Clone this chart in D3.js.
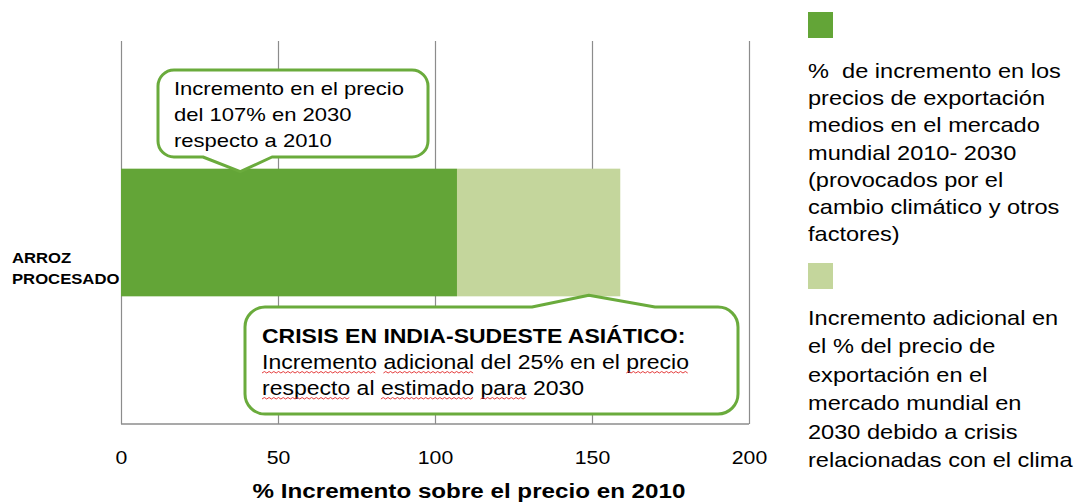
<!DOCTYPE html>
<html>
<head>
<meta charset="utf-8">
<script src="https://cdn.jsdelivr.net/npm/d3@7"></script>
<style>
  body { margin: 0; background: #fff; }
  svg text { font-family: "Liberation Sans", Arial, sans-serif; fill: #000; white-space: pre; }
</style>
</head>
<body>
<svg id="chart" width="1079" height="504"></svg>
<script>
// data
const categories = ["ARROZ PROCESADO"];
const baseIncrease = [107];     // % increase 2010-2030
const crisisIncrease = [52];    // additional increase from crisis
const xTicks = [0, 50, 100, 150, 200];
const seriesKeys = ["base", "crisis"];
const seriesColors = ["#63a537", "#c4d69c"];
const legendLines = [
  ["%  de incremento en los", "precios de exportación", "medios en el mercado", "mundial 2010- 2030", "(provocados por el", "cambio climático y otros", "factores)"],
  ["Incremento adicional en", "el % del precio de", "exportación en el", "mercado mundial en", "2030 debido a crisis", "relacionadas con el clima"]
];
const axisTitle = "% Incremento sobre el precio en 2010";
const note1 = ["Incremento en el precio", "del 107% en 2030", "respecto a 2010"];
const note2Title = "CRISIS EN INDIA-SUDESTE ASIÁTICO:";
// words flagged by the spell checker (red wavy underline)
const note2Lines = [
  [["Incremento", true], [" ", false], ["adicional", true], [" del 25% en el ", false], ["precio", true]],
  [["respecto", true], [" al ", false], ["estimado", true], [" ", false], ["para", true], [" 2030", false]]
];

const rows = categories.map((c, i) => ({ cat: c, base: baseIncrease[i], crisis: crisisIncrease[i] }));
const stacked = d3.stack().keys(seriesKeys)(rows);

const svg = d3.select("#chart");
const plot = { left: 121, right: 749, top: 41, bottom: 424 };
const SX = 1.18; // the text in the source is slightly wide

const x = d3.scaleLinear().domain([0, 200]).range([plot.left, plot.right]);
const y = d3.scaleBand().domain(categories).range([plot.top, plot.bottom])
  .paddingInner(0.5).paddingOuter(0.5);

const GREEN = "#6aab3c";
const GRID = "#8c8c8c";

function label(parent, tx, ty, str, size, opts = {}) {
  const g = parent.append("g").attr("transform", `translate(${tx},${ty}) scale(${opts.sx || SX},1)`);
  const t = g.append("text")
    .attr("font-size", size)
    .attr("font-weight", opts.bold ? "bold" : null)
    .attr("text-anchor", opts.anchor || "start")
    .text(str);
  return { g, t };
}

// gridlines
svg.append("g")
  .attr("transform", `translate(0,${plot.bottom})`)
  .call(d3.axisBottom(x).tickValues(xTicks).tickSize(-(plot.bottom - plot.top)).tickFormat(""))
  .call(g => g.select(".domain").remove())
  .call(g => g.selectAll("line").attr("stroke", GRID).attr("stroke-width", 1.2));

// bottom axis line
svg.append("line")
  .attr("x1", plot.left).attr("x2", plot.right)
  .attr("y1", plot.bottom).attr("y2", plot.bottom)
  .attr("stroke", GRID).attr("stroke-width", 1.5);

// bars
svg.append("g").selectAll("g")
  .data(stacked)
  .join("g")
  .attr("fill", (d, i) => seriesColors[i])
  .selectAll("rect")
  .data(d => d)
  .join("rect")
  .attr("x", d => x(d[0]))
  .attr("y", d => y(d.data.cat))
  .attr("width", d => x(d[1]) - x(d[0]))
  .attr("height", y.bandwidth());

// tick labels
const ax = svg.append("g")
  .attr("transform", `translate(0,${plot.bottom})`)
  .call(d3.axisBottom(x).tickValues(xTicks).tickSize(0).tickPadding(0))
  .call(g => g.select(".domain").remove());
ax.selectAll("text")
  .attr("font-family", null).attr("font-size", 18)
  .attr("y", 40).attr("dy", null)
  .attr("transform", `scale(${SX},1)`);

// axis title
label(svg, 469, 498, axisTitle, 20, { bold: true, anchor: "middle", sx: 1.21 });

// category label
categories.forEach(c => {
  const parts = c.split(" ");
  const cy = y(c) + y.bandwidth() / 2;
  parts.forEach((p, i) => label(svg, 12, cy + 32 + (i - parts.length / 2 + 1) * 21 - 2, p, 14.5, { bold: true, sx: 1.15 }));
});

// callout shapes
function callout(box, r, side, base0, base1, tip) {
  const { x0, y0, x1, y1 } = box;
  const p = d3.path();
  p.moveTo(x0 + r, y0);
  if (side === "top") { p.lineTo(base0, y0); p.lineTo(tip[0], tip[1]); p.lineTo(base1, y0); }
  p.lineTo(x1 - r, y0);
  p.arcTo(x1, y0, x1, y0 + r, r);
  p.lineTo(x1, y1 - r);
  p.arcTo(x1, y1, x1 - r, y1, r);
  if (side === "bottom") { p.lineTo(base1, y1); p.lineTo(tip[0], tip[1]); p.lineTo(base0, y1); }
  p.lineTo(x0 + r, y1);
  p.arcTo(x0, y1, x0, y1 - r, r);
  p.lineTo(x0, y0 + r);
  p.arcTo(x0, y0, x0 + r, y0, r);
  p.closePath();
  svg.append("path").attr("d", p.toString())
    .attr("fill", "#fff").attr("stroke", GREEN).attr("stroke-width", 3)
    .attr("stroke-linejoin", "round");
}

callout({ x0: 158, y0: 70, x1: 428, y1: 157 }, 16, "bottom", 203, 272, [x(38), y(categories[0]) + 3]);
note1.forEach((s, i) => label(svg, 174, 95 + i * 26, s, 18.5, { sx: 1.19 }));

callout({ x0: 245, y0: 307, x1: 738, y1: 414 }, 20, "top", 532, 655, [x(149), y(categories[0]) + y.bandwidth() - 1]);
label(svg, 262, 343, note2Title, 19.5, { bold: true });

note2Lines.forEach((words, li) => {
  const { g, t } = label(svg, 262, 369 + li * 26, "", 19.5);
  words.forEach(w => t.append("tspan").text(w[0]));
  const node = t.node();
  let idx = 0;
  words.forEach(w => {
    if (w[1]) {
      const a = node.getStartPositionOfChar(idx).x;
      const b = node.getEndPositionOfChar(idx + w[0].length - 1).x;
      let d = `M${a},4`;
      let up = true;
      for (let px = a + 2; px <= b; px += 2) { d += `L${px},${up ? 2.5 : 4}`; up = !up; }
      g.append("path").attr("d", d).attr("fill", "none")
        .attr("stroke", "#e02020").attr("stroke-width", 0.8);
    }
    idx += w[0].length;
  });
});

// legend
const legendTop = [12, 263];
const legendFirst = [78, 325];
const legendStep = [27.2, 28.4];
legendLines.forEach((lines, i) => {
  svg.append("rect").attr("x", 808).attr("y", legendTop[i])
    .attr("width", 25).attr("height", 26).attr("fill", seriesColors[i]);
  lines.forEach((s, j) => label(svg, 808, legendFirst[i] + j * legendStep[i], s, 20.5, { sx: 1.15 }));
});
</script>
</body>
</html>
